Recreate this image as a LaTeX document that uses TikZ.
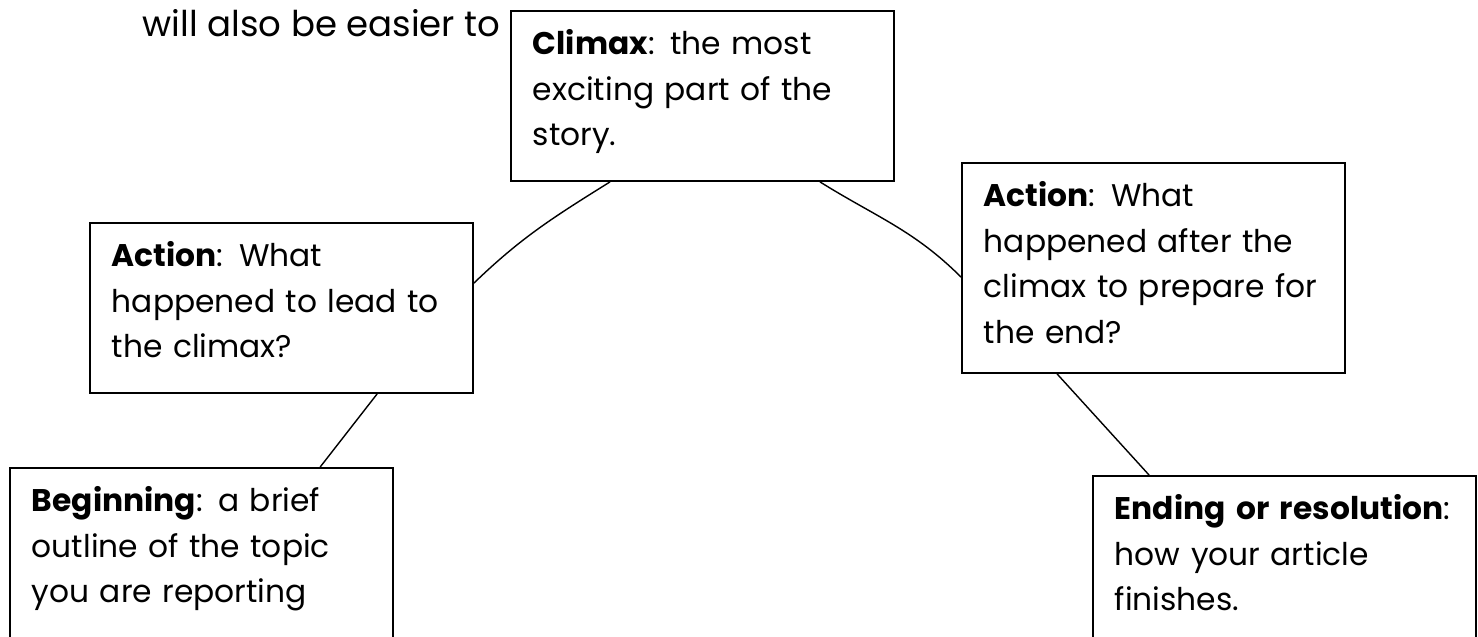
\documentclass[tikz,border=0pt]{standalone}
\usepackage{fontspec}
\setmainfont{Poppins}
\begin{document}
\begin{tikzpicture}[x=0.01cm,y=-0.01cm,
  txt/.style={font=\fontsize{8.9pt}{12.95pt}\selectfont},
  stage/.style={txt,draw,line width=0.5pt,anchor=north west,align=left,
    text width=3.39cm,inner xsep=0.22cm,inner ysep=0pt,text height=0.44cm},
  link/.style={line width=0.4pt}]
\clip (0,0) rectangle (1478,636);
\node[font=\fontsize{10.1pt}{14pt}\selectfont,anchor=base west,inner sep=0pt] (intro) at (142,36) {will also be easier to};
\node[stage,text depth=1.26cm] (climax) at (510,10) {\textbf{Climax}: the most\\exciting part of the\\story.};
\node[stage,text depth=1.26cm] (lead) at (89,222) {\textbf{Action}: What\\happened to lead to\\the climax?};
\node[stage,text depth=1.66cm] (after) at (961,162) {\textbf{Action}: What\\happened after the\\climax to prepare for\\the end?};
\node[stage,text depth=1.8cm] (begin) at (9,467) {\textbf{Beginning}: a brief\\outline of the topic\\you are reporting};
\node[stage,text depth=1.8cm] (ending) at (1092,475) {\textbf{Ending or resolution}:\\how your article\\finishes.};
\draw[link] ([yshift=-0.61cm]lead.north east) to[out=44,in=-148] ([xshift=1cm]climax.south west);
\draw[link] ([xshift=-0.75cm]climax.south east) to[out=-32,in=135] ([yshift=-1.15cm]after.north west);
\draw[link] ([xshift=2.88cm]lead.south west) -- ([xshift=3.11cm]begin.north west);
\draw[link] ([xshift=0.96cm]after.south west) -- ([xshift=0.57cm]ending.north west);
\end{tikzpicture}
\end{document}
